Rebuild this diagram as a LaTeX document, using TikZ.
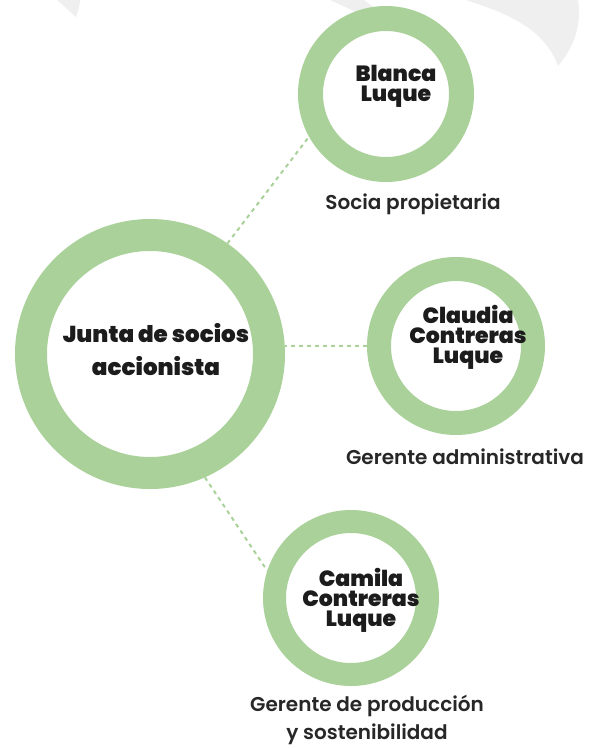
\documentclass[tikz,border=0pt]{standalone}
\usepackage{fontspec}
\setmainfont{Poppins}
\IfFontExistsTF{Poppins Black}{\newfontfamily\namefont{Poppins Black}}{\newfontfamily\namefont{Poppins}[UprightFont=*, BoldFont=*]}
\IfFontExistsTF{Poppins SemiBold}{\newfontfamily\rolefont{Poppins SemiBold}}{\newfontfamily\rolefont{Poppins}}
\usetikzlibrary{positioning}
\definecolor{ringgreen}{RGB}{169,209,153}
\definecolor{leafgrey}{RGB}{239,239,239}
\definecolor{inkblack}{RGB}{28,28,28}
\tikzset{
  ring/.style={circle, draw=ringgreen, inner sep=0pt},
  link/.style={draw=ringgreen, line width=2pt, dash pattern=on 4pt off 4pt},
  persontext/.style={font=\namefont\fontsize{22}{20}\selectfont, text=inkblack, align=center, inner sep=0pt},
  roletext/.style={font=\rolefont\fontsize{20}{28}\selectfont, text=inkblack!95, align=center, inner sep=0pt},
}
\begin{document}
\begin{tikzpicture}[x=1pt,y=-1pt]
\useasboundingbox (0,0) rectangle (592,748);
% hojas grises de fondo
\fill[leafgrey] (57,0) .. controls (64,6) and (70,12) .. (76,17) .. controls (78,11) and (80,5) .. (80,0) -- cycle;
\fill[leafgrey] (330,0) .. controls (345,7) and (358,12) .. (372,22) -- (378,10) .. controls (372,6) .. (364,0) -- cycle;
\fill[leafgrey] (466,0) .. controls (510,14) and (545,30) .. (558,66) .. controls (574,48) and (582,24) .. (578,0) -- cycle;
% anillos
\node[ring, line width=32pt, minimum size=238pt] (junta) at (150,354) {};
\node[ring, line width=25pt, minimum size=151pt] (blanca) at (386,94) {};
\node[ring, line width=24pt, minimum size=154pt] (claudia) at (456,346) {};
\node[ring, line width=23pt, minimum size=153pt] (camila) at (351,598) {};
% nombres
\node[persontext, font=\namefont\fontsize{23}{33}\selectfont] (juntaname) at (156,350) {Junta de socios\\accionista};
\node[persontext] (blancaname) at (396,86) {Blanca\\Luque};
\node[persontext] (claudianame) at (468,337) {Claudia\\Contreras\\Luque};
\node[persontext] (camilaname) at (361,600) {Camila\\Contreras\\Luque};
% cargos
\node[roletext] (blancarole) at (413,204) {Socia propietaria};
\node[roletext] (claudiarole) at (465,457) {Gerente administrativa};
\node[roletext, anchor=south] (camilarole) at (367,745) {Gerente de producción\\y sostenibilidad};
% conectores
\draw[link] (junta.55) -- (blanca.209);
\draw[link] (claudia.west) -- (junta.east |- claudia.west);
\draw[link] (junta.-66) -- (camila.162);
\end{tikzpicture}
\end{document}
